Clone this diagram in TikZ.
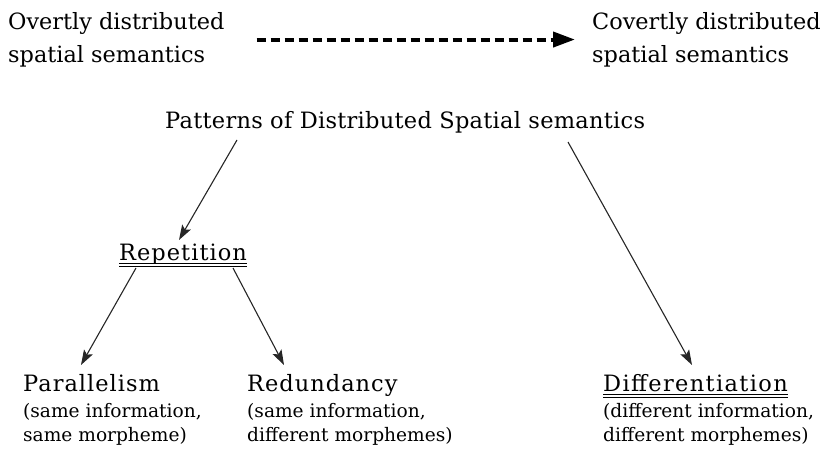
\documentclass[tikz,border=0pt]{standalone}
\usepackage{fontspec}
\setmainfont{DejaVu Serif}
\usetikzlibrary{arrows.meta,positioning,calc}

\begin{document}
\begin{tikzpicture}[
  x=1pt, y=-1pt,
  plain/.style={inner sep=0pt, align=left, anchor=north west,
    font=\fontsize{22.4}{33}\selectfont},
  head/.style={inner sep=0pt, anchor=base west,
    font=\fontsize{22.5}{27}\selectfont\addfontfeatures{LetterSpace=4.5}},
  note/.style={inner sep=0pt, align=left, anchor=north west,
    font=\fontsize{18.6}{24}\selectfont},
  arr/.style={-{Stealth[length=15pt,width=10pt,inset=3pt]}, line width=1.1pt, black!85},
  darr/.style={-{Triangle[length=22pt,width=15pt]}, line width=4pt,
    dash pattern=on 9pt off 5pt},
  uline/.style={double, double distance=1.8pt, line width=1pt},
]
\useasboundingbox (0,0) rectangle (821,452);

% top row
\node[plain] (overt) at (8,12) {Overtly distributed\\spatial semantics};
\node[plain] (covert) at (592,12) {Covertly distributed\\spatial semantics};
\draw[darr] ([xshift=32pt]overt.east) -- ([xshift=-17pt]covert.west);

% tree
\node[head, font=\fontsize{22.5}{27}\selectfont\addfontfeatures{LetterSpace=1.2}] (patterns) at (165,128) {Patterns of Distributed Spatial semantics};
\node[head] (repet) at (119,260) {Repetition};
\node[head] (paral) at (23,391) {Parallelism};
\node[head] (redund) at (247,391) {Redundancy};
\node[head, font=\fontsize{22.5}{27}\selectfont\addfontfeatures{LetterSpace=6}] (diff) at (603,391) {Differentiation};

\node[note] (paralnote) at ($(paral.base west)+(0,12)$) {(same information,\\same morpheme)};
\node[note] (redundnote) at ($(redund.base west)+(0,12)$) {(same information,\\different morphemes)};
\node[note] (diffnote) at ($(diff.base west)+(0,12)$) {(different information,\\different morphemes)};

\draw[uline] ($(repet.base west)+(0,5)$) -- ($(repet.base east)+(0,5)$);
\draw[uline] ($(diff.base west)+(0,5)$) -- ($(diff.base east)+(0,5)$);

\draw[arr] ($(patterns.base west)+(72,12)$) -- ($(repet.base west)+(60,-20)$);
\draw[arr] ($(patterns.base west)+(403,14)$) -- ($(diff.base west)+(89,-26)$);
\draw[arr] ($(repet.base west)+(17,8)$) -- ($(paral.base west)+(58,-26)$);
\draw[arr] ($(repet.base west)+(114,8)$) -- ($(redund.base west)+(37,-26)$);
\end{tikzpicture}
\end{document}
